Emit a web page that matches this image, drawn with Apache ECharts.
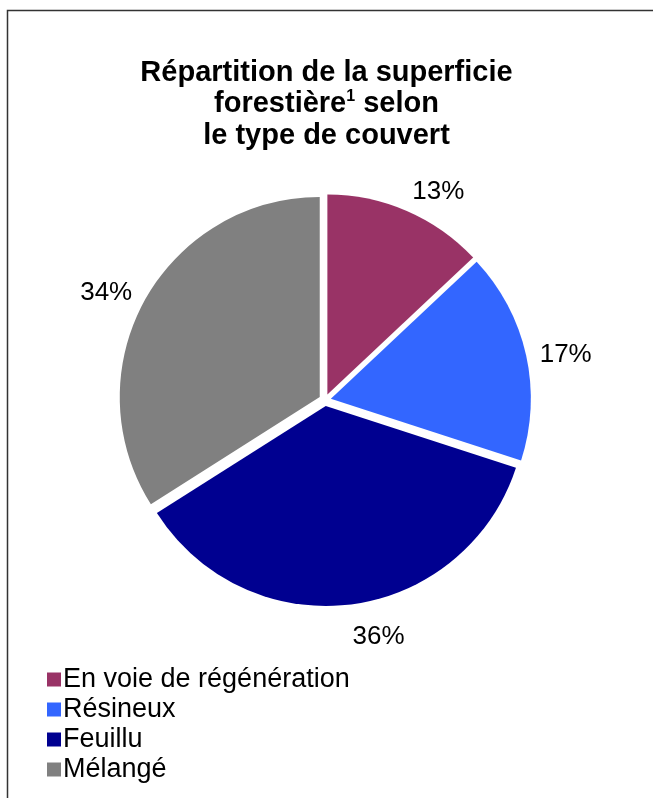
<!DOCTYPE html>
<html>
<head>
<meta charset="utf-8">
<script src="https://cdn.jsdelivr.net/npm/echarts@6/dist/echarts.min.js"></script>
<style>
html,body{margin:0;padding:0;background:#fff;}
#chart{width:653px;height:798px;}
</style>
</head>
<body>
<div id="chart"></div>
<script>
const categories = ['En voie de régénération', 'Résineux', 'Feuillu', 'Mélangé'];
const values = [13, 17, 36, 34];
const colors = ['#993366', '#3366FF', '#000090', '#808080'];
const titleText = 'Répartition de la superficie\nforestière{sup|1} selon\nle type de couvert';

const chart = echarts.init(document.getElementById('chart'), null, {renderer: 'canvas'});
const font = '"Liberation Sans", Arial, sans-serif';
const pieCenter = [325, 400];
chart.setOption({
  animation: false,
  backgroundColor: '#fff',
  graphic: [{
    type: 'rect',
    shape: {x: 7.5, y: 10.5, width: 700, height: 850},
    style: {fill: 'none', stroke: '#333', lineWidth: 1.5},
    silent: true
  }],
  title: {
    text: titleText,
    left: 'center',
    top: 52,
    textStyle: {
      fontFamily: font,
      fontSize: 29,
      fontWeight: 'bold',
      color: '#000',
      lineHeight: 31.5,
      rich: {
        sup: {fontFamily: font, fontSize: 16, fontWeight: 'bold', color: '#000', verticalAlign: 'top', lineHeight: 31.5, padding: [0, 0, 12, 0]}
      }
    }
  },
  legend: {
    orient: 'vertical',
    left: 42,
    top: 661,
    icon: 'rect',
    itemWidth: 14,
    itemHeight: 14,
    itemGap: 3,
    data: categories,
    textStyle: {fontFamily: font, fontSize: 27, color: '#000', padding: [0, 0, 0, -3]}
  },
  series: [{
    type: 'pie',
    center: pieCenter,
    radius: 200,
    startAngle: 90,
    clockwise: true,
    selectedMode: 'multiple',
    selectedOffset: 6,
    avoidLabelOverlap: false,
    itemStyle: {borderWidth: 0},
    label: {
      show: true,
      position: 'outside',
      formatter: '{d}%',
      fontFamily: font,
      fontSize: 26,
      color: '#000',
      distanceToLabelLine: 0
    },
    labelLine: {show: false, length: 14, length2: 0},
    labelLayout: function (p) {
      // push the label box off the ray, as a spreadsheet does: vertical shift by half its height along the ray's direction
      let dirY = 0;
      const pts = p.labelLinePoints;
      if (pts && pts.length >= 2) {
        const dx = pts[1][0] - pts[0][0], dy = pts[1][1] - pts[0][1];
        const len = Math.sqrt(dx * dx + dy * dy) || 1;
        dirY = dy / len;
      } else {
        const cx = p.labelRect.x + p.labelRect.width / 2, cy = p.labelRect.y + p.labelRect.height / 2;
        const dx = cx - pieCenter[0], dy = cy - pieCenter[1];
        dirY = dy / (Math.sqrt(dx * dx + dy * dy) || 1);
      }
      return {dy: dirY * p.labelRect.height / 2 + p.labelRect.height * 0.2};
    },
    emphasis: {disabled: true},
    data: categories.map((c, i) => ({
      name: c,
      value: values[i],
      selected: true,
      itemStyle: {color: colors[i]}
    }))
  }]
});
</script>
</body>
</html>
